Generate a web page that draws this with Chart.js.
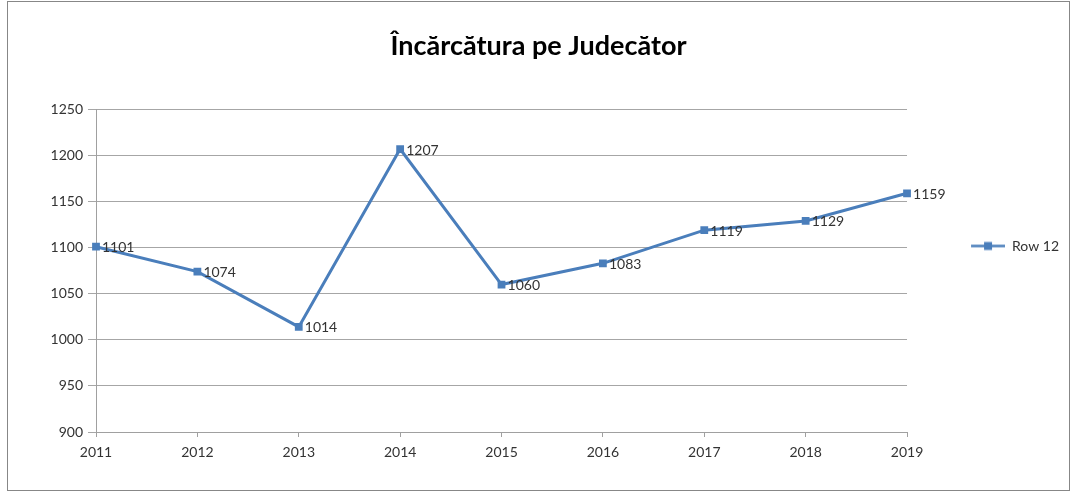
<!DOCTYPE html>
<html>
<head>
<meta charset="utf-8">
<script src="https://cdn.jsdelivr.net/npm/chart.js@4"></script>
<style>
  body { margin: 0; background: #fff; }
  #box { position: absolute; left: 7px; top: 1px; width: 1061px; height: 488px; border: 1px solid #878787; }
</style>
</head>
<body>
<div id="box"><canvas id="myChart"></canvas></div>
<script>
// data
const years = ['2011', '2012', '2013', '2014', '2015', '2016', '2017', '2018', '2019'];
const row12 = [1101, 1074, 1014, 1207, 1060, 1083, 1119, 1129, 1159];
const seriesName = 'Row 12';
const chartTitle = 'Încărcătura pe Judecător';

const blue = '#4a7ebb';
const font = 'Lato';
const textColor = '#333333';

// legend marker: line with a square on it (left part is blank space)
const legendImg = document.createElement('canvas');
legendImg.width = 88;
legendImg.height = 11;
let g = legendImg.getContext('2d');
g.strokeStyle = blue;
g.lineWidth = 2.5;
g.beginPath();
g.moveTo(54, 5.5);
g.lineTo(88, 5.5);
g.stroke();
g.fillStyle = blue;
g.fillRect(67, 1.5, 8, 8);

// value labels to the right of each point
const valueLabels = {
  id: 'valueLabels',
  afterDatasetsDraw(chart) {
    const ctx = chart.ctx;
    ctx.save();
    ctx.font = '14px ' + font;
    ctx.fillStyle = textColor;
    ctx.textAlign = 'left';
    ctx.textBaseline = 'middle';
    chart.data.datasets.forEach((ds, i) => {
      chart.getDatasetMeta(i).data.forEach((pt, j) => {
        ctx.fillText(ds.data[j], pt.x + 6, pt.y + 1);
      });
    });
    ctx.restore();
  }
};

new Chart(document.getElementById('myChart'), {
  type: 'line',
  data: {
    labels: years,
    datasets: [{
      label: seriesName,
      data: row12,
      borderColor: blue,
      backgroundColor: blue,
      borderWidth: 3,
      pointStyle: 'rect',
      pointRadius: 5.5,
      pointBorderWidth: 0,
      tension: 0
    }]
  },
  options: {
    responsive: true,
    maintainAspectRatio: false,
    animation: false,
    layout: { padding: { left: 0, right: 0, top: 0, bottom: 0 } },
    plugins: {
      title: {
        display: true,
        text: chartTitle,
        color: '#000',
        font: { family: font, size: 27, weight: 'bold' },
        padding: { top: 28, bottom: 47 }
      },
      legend: {
        position: 'right',
        labels: {
          usePointStyle: true,
          pointStyle: legendImg,
          pointStyleWidth: 88,
          padding: 10,
          color: textColor,
          font: { family: font, size: 14 }
        }
      },
      tooltip: { enabled: false }
    },
    scales: {
      x: {
        offset: false,
        afterFit: (s) => { s.height = 58; },
        grid: { drawOnChartArea: false, drawTicks: true, tickLength: 5, color: '#a0a0a0' },
        border: { color: '#a0a0a0', width: 1 },
        ticks: { color: textColor, font: { family: font, size: 14 }, padding: 7, maxRotation: 0 }
      },
      y: {
        min: 900,
        max: 1250,
        afterFit: (s) => { s.width = 88; },
        grid: { color: '#a6a6a6', tickLength: 8 },
        border: { color: '#a0a0a0', width: 1 },
        ticks: {
          stepSize: 50,
          color: textColor,
          font: { family: font, size: 14 },
          padding: 5,
          callback: (v) => String(v)
        }
      }
    }
  },
  plugins: [valueLabels]
});
</script>
</body>
</html>
